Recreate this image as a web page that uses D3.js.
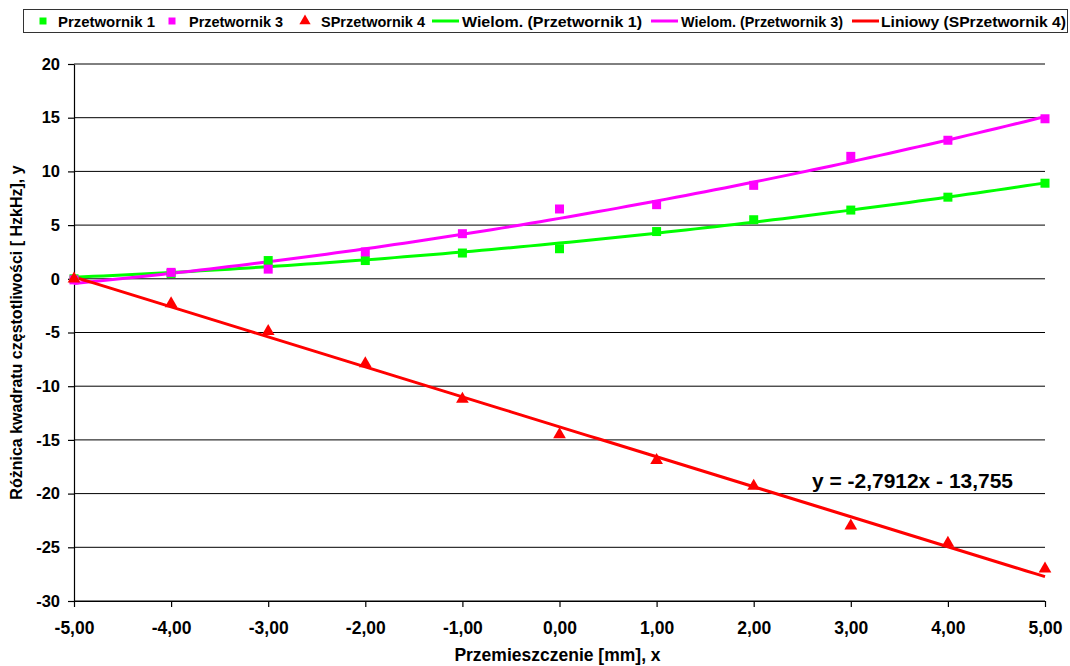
<!DOCTYPE html>
<html>
<head>
<meta charset="utf-8">
<script src="https://cdn.jsdelivr.net/npm/d3@7"></script>
<style>
  body { margin: 0; background: #fff; }
  text { font-family: "Liberation Sans", Arial, sans-serif; font-weight: bold; }
</style>
</head>
<body>
<script>
var xValues = [-5, -4, -3, -2, -1, 0, 1, 2, 3, 4, 5];
var przetwornik1 = [0.0, 0.5, 1.7, 1.7, 2.4, 2.8, 4.4, 5.5, 6.4, 7.6, 8.9];
var przetwornik3 = [-0.1, 0.6, 0.9, 2.5, 4.2, 6.5, 6.9, 8.7, 11.4, 12.9, 14.9];
var sprzetwornik4 = [0.0, -2.3, -4.9, -7.9, -11.2, -14.5, -16.9, -19.3, -23.0, -24.6, -27.0];
var yTicks = [20, 15, 10, 5, 0, -5, -10, -15, -20, -25, -30];
var legendLabels = ["Przetwornik 1", "Przetwornik 3", "SPrzetwornik 4",
    "Wielom. (Przetwornik 1)", "Wielom. (Przetwornik 3)", "Liniowy (SPrzetwornik 4)"];
var equationLabel = "y = -2,7912x - 13,755";

(function () {
    var width = 1070;
    var height = 666;
    var margin = {left: 74, right: 25, top: 64, bottom: 65};

    var svg = d3.select("body").append("svg")
        .attr("width", width)
        .attr("height", height);

    var xScale = d3.scaleLinear().domain([-5, 5]).range([margin.left, width - margin.right]);
    var yScale = d3.scaleLinear().domain([-30, 20]).range([height - margin.bottom, margin.top]);

    // least squares fit, degree 1 or 2
    function polyFit(xs, ys, deg) {
        var n = deg + 1;
        var A = [], b = [];
        for (var i = 0; i < n; i++) {
            A.push([]);
            for (var j = 0; j < n; j++) A[i].push(d3.sum(xs, x => Math.pow(x, i + j)));
            b.push(d3.sum(xs, (x, k) => ys[k] * Math.pow(x, i)));
        }
        for (var c = 0; c < n; c++) {
            for (var r = c + 1; r < n; r++) {
                var f = A[r][c] / A[c][c];
                for (var q = c; q < n; q++) A[r][q] -= f * A[c][q];
                b[r] -= f * b[c];
            }
        }
        var coef = new Array(n).fill(0);
        for (var r2 = n - 1; r2 >= 0; r2--) {
            var s = b[r2];
            for (var q2 = r2 + 1; q2 < n; q2++) s -= A[r2][q2] * coef[q2];
            coef[r2] = s / A[r2][r2];
        }
        return function (x) { return d3.sum(coef, (cv, p) => cv * Math.pow(x, p)); };
    }

    // gridlines
    svg.append("g").selectAll("line").data(yTicks).join("line")
        .attr("x1", xScale(-5)).attr("x2", xScale(5))
        .attr("y1", d => yScale(d)).attr("y2", d => yScale(d))
        .attr("stroke", "#000").attr("stroke-width", 1);

    var xAxisGen = d3.axisBottom(xScale).tickValues(xValues)
        .tickFormat(d => d3.format(".2f")(d).replace(".", ",").replace("−", "-"))
        .tickSize(6).tickSizeOuter(0);
    var yAxisGen = d3.axisLeft(yScale).tickValues(yTicks)
        .tickFormat(d => String(d)).tickSize(6).tickSizeOuter(0);

    var xAxis = svg.append("g")
        .attr("transform", "translate(0," + yScale(-30) + ")")
        .call(xAxisGen);
    xAxis.selectAll("text").attr("font-size", 17.5).attr("y", 33).attr("dy", null)
        .attr("font-family", "Liberation Sans").attr("font-weight", "bold");

    var yAxis = svg.append("g")
        .attr("transform", "translate(" + xScale(-5) + ",0)")
        .call(yAxisGen);
    yAxis.selectAll("text").attr("font-size", 16.5).attr("x", -14)
        .attr("font-family", "Liberation Sans").attr("font-weight", "bold");
    svg.selectAll(".domain, .tick line").attr("stroke", "#000").attr("stroke-width", 1.2);
    svg.selectAll(".tick text").attr("fill", "#000");

    // trend lines
    var samples = d3.range(-5, 5.0001, 0.1);
    var lineGen = d3.line().x(d => xScale(d[0])).y(d => yScale(d[1]));
    var fit1 = polyFit(xValues, przetwornik1, 2);
    var fit3 = polyFit(xValues, przetwornik3, 2);
    var fit4 = polyFit(xValues, sprzetwornik4, 1);
    [[fit1, "#00ff00"], [fit3, "#ff00ff"], [fit4, "#ff0000"]].forEach(function (t) {
        svg.append("path")
            .attr("d", lineGen(samples.map(x => [x, t[0](x)])))
            .attr("fill", "none").attr("stroke", t[1]).attr("stroke-width", 3);
    });

    // markers
    var sq = d3.symbol().type(d3.symbolSquare).size(81);
    var tri = d3.symbol().type(d3.symbolTriangle).size(70);
    [[przetwornik1, "#00ff00", sq], [przetwornik3, "#ff00ff", sq], [sprzetwornik4, "#ff0000", tri]]
        .forEach(function (s) {
            svg.append("g").selectAll("path").data(s[0]).join("path")
                .attr("d", s[2])
                .attr("transform", (d, i) => "translate(" + xScale(xValues[i]) + "," + yScale(d) + ")")
                .attr("fill", s[1]);
        });

    // equation
    svg.append("text").attr("x", 812).attr("y", 488)
        .attr("font-size", 20).attr("textLength", 201).attr("lengthAdjust", "spacingAndGlyphs")
        .text(equationLabel);

    // axis titles
    svg.append("text")
        .attr("x", (xScale(-5) + xScale(5)) / 2 - 2).attr("y", 661)
        .attr("text-anchor", "middle").attr("font-size", 17.5)
        .text("Przemieszczenie [mm], x");
    svg.append("text")
        .attr("transform", "translate(22," + (yScale(20) + yScale(-30)) / 2 + ") rotate(-90)")
        .attr("text-anchor", "middle").attr("font-size", 16)
        .text("Różnica kwadratu częstotliwości [ HzkHz], y");

    // legend
    var legend = svg.append("g");
    legend.append("rect").attr("x", 23.5).attr("y", 9.5).attr("width", 1044).attr("height", 23)
        .attr("fill", "#fff").attr("stroke", "#333").attr("stroke-width", 1);
    var legendItems = [
        {kind: "sq", color: "#00ff00", mx: 43, tx: 58, w: 97},
        {kind: "sq", color: "#ff00ff", mx: 172, tx: 189, w: 94},
        {kind: "tri", color: "#ff0000", mx: 305, tx: 321, w: 104},
        {kind: "line", color: "#00ff00", mx: 432, tx: 462, w: 180},
        {kind: "line", color: "#ff00ff", mx: 651, tx: 681, w: 162},
        {kind: "line", color: "#ff0000", mx: 852, tx: 881, w: 185}
    ];
    legendItems.forEach(function (it, i) {
        if (it.kind === "line") {
            legend.append("line").attr("x1", it.mx).attr("x2", it.mx + 27)
                .attr("y1", 21).attr("y2", 21).attr("stroke", it.color).attr("stroke-width", 3);
        } else {
            legend.append("path")
                .attr("d", d3.symbol().type(it.kind === "sq" ? d3.symbolSquare : d3.symbolTriangle)
                    .size(it.kind === "sq" ? 49 : 55))
                .attr("transform", "translate(" + it.mx + ",21)").attr("fill", it.color);
        }
        legend.append("text").attr("x", it.tx).attr("y", 26.5)
            .attr("font-size", 15).attr("textLength", it.w).attr("lengthAdjust", "spacingAndGlyphs")
            .text(legendLabels[i]);
    });
})();
</script>
</body>
</html>
